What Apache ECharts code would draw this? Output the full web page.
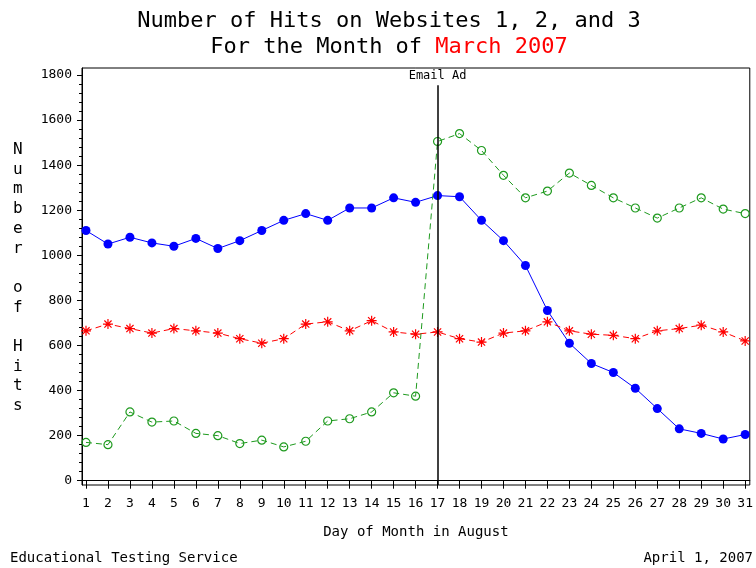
<!DOCTYPE html>
<html>
<head>
<meta charset="utf-8">
<script src="https://cdn.jsdelivr.net/npm/echarts@6/dist/echarts.min.js"></script>
<style>html,body{margin:0;padding:0;background:#fff}#c{width:756px;height:568px}</style>
</head>
<body>
<div id="c"></div>
<script>
var days = [1,2,3,4,5,6,7,8,9,10,11,12,13,14,15,16,17,18,19,20,21,22,23,24,25,26,27,28,29,30,31];
var site1 = [1110,1050,1080,1055,1040,1075,1030,1065,1110,1155,1185,1155,1210,1210,1255,1235,1265,1260,1155,1065,955,755,610,520,480,410,320,230,210,185,205];
var site2 = [665,695,675,655,675,665,655,630,610,630,695,705,665,710,660,650,660,630,615,655,665,705,665,650,645,630,665,675,690,660,620];
var site3 = [170,160,305,260,265,210,200,165,180,150,175,265,275,305,390,375,1505,1540,1465,1355,1255,1285,1365,1310,1255,1210,1165,1210,1255,1205,1185];
var yTicks = [0,200,400,600,800,1000,1200,1400,1600,1800];
var yMinorTicks = [];
for (var t = 0; t <= 1800; t += 40) yMinorTicks.push(t);
var adDay = 17;
var adLabel = 'Email Ad';

var F = "'DejaVu Sans Mono', monospace";
function pairs(vals){ return days.map(function(d,i){ return [d, vals[i]]; }); }
var star = 'path://M0,-5L0,5M-5,0L5,0M-3.6,-3.6L3.6,3.6M-3.6,3.6L3.6,-3.6';

var chart = echarts.init(document.getElementById('c'), null, {renderer:'canvas'});
chart.setOption({
  animation: false,
  backgroundColor: '#fff',
  title: [
    {text: 'Number of Hits on Websites 1, 2, and 3', left: 384, top: 5, textAlign: 'center',
     textStyle: {fontFamily: F, fontSize: 22, fontWeight: 'normal', color: '#000'}},
    {text: '{a|For the Month of }{r|March 2007}', left: 384, top: 31, textAlign: 'center',
     textStyle: {fontFamily: F, fontSize: 22, fontWeight: 'normal', color: '#000',
       rich: {a: {fontFamily: F, fontSize: 22, fontWeight: 'normal', color: '#000'},
              r: {fontFamily: F, fontSize: 22, fontWeight: 'normal', color: '#ff0000'}}}}
  ],
  grid: {left: 82, right: 5, top: 68, bottom: 83, show: true, borderColor: '#000', borderWidth: 1, containLabel: false},
  xAxis: {
    type: 'value', min: 0.818, max: 31.21,
    name: 'Day of Month in August', nameLocation: 'middle', nameGap: 40,
    nameTextStyle: {fontFamily: F, fontSize: 14, color: '#000'},
    axisLine: {show: true, lineStyle: {color: '#000'}},
    axisTick: {show: true, length: 8, customValues: days, lineStyle: {color: '#000'}},
    axisLabel: {show: true, customValues: days, margin: 12, fontFamily: F, fontSize: 13, color: '#000'},
    splitLine: {show: false}
  },
  yAxis: [
    {type: 'value', min: -19, max: 1831, position: 'left',
     axisLine: {show: true, lineStyle: {color: '#000'}},
     axisTick: {show: true, length: 5, customValues: yTicks, lineStyle: {color: '#000'}},
     axisLabel: {show: true, customValues: yTicks, margin: 10, fontFamily: F, fontSize: 13, color: '#000',
       formatter: function(v){ return String(v); }},
     splitLine: {show: false}},
    {type: 'value', min: -19, max: 1831, position: 'left', offset: 0,
     axisLine: {show: false},
     axisTick: {show: true, length: 3, customValues: yMinorTicks, lineStyle: {color: '#000'}},
     axisLabel: {show: false},
     splitLine: {show: false}}
  ],
  graphic: [
    {type: 'text', left: 13, top: 140, style: {text: 'N\nu\nm\nb\ne\nr\n\no\nf\n\nH\ni\nt\ns', fontFamily: F, fontSize: 16, lineHeight: 19.7, fill: '#000', align: 'center'}},
    {type: 'text', left: 10, top: 551, style: {text: 'Educational Testing Service', fontFamily: F, fontSize: 14, fill: '#000'}},
    {type: 'text', right: 3, top: 551, style: {text: 'April 1, 2007', fontFamily: F, fontSize: 14, fill: '#000'}}
  ],
  series: [
    {type: 'line', name: 'Website 1', data: pairs(site1), symbol: 'circle', symbolSize: 9,
     lineStyle: {color: '#0000ff', width: 1}, itemStyle: {color: '#0000ff'},
     markLine: {silent: true, symbol: 'none',
       lineStyle: {color: '#000', width: 1.5, type: 'solid'},
       label: {show: true, position: 'start', formatter: adLabel, distance: 3, fontFamily: F, fontSize: 12, color: '#000'},
       data: [[{coord: [adDay, 1755]}, {coord: [adDay, -19]}]]}},
    {type: 'line', name: 'Website 2', data: pairs(site2), symbol: star, symbolSize: 10,
     lineStyle: {color: '#ff0000', width: 1, type: [6, 4]},
     itemStyle: {color: 'none', borderColor: '#ff0000', borderWidth: 1.2}},
    {type: 'line', name: 'Website 3', data: pairs(site3), symbol: 'circle', symbolSize: 8,
     lineStyle: {color: '#1e9a1e', width: 1, type: [6, 4]},
     itemStyle: {color: 'rgba(0,0,0,0)', borderColor: '#1e9a1e', borderWidth: 1.2}}
  ]
});
</script>
</body>
</html>
